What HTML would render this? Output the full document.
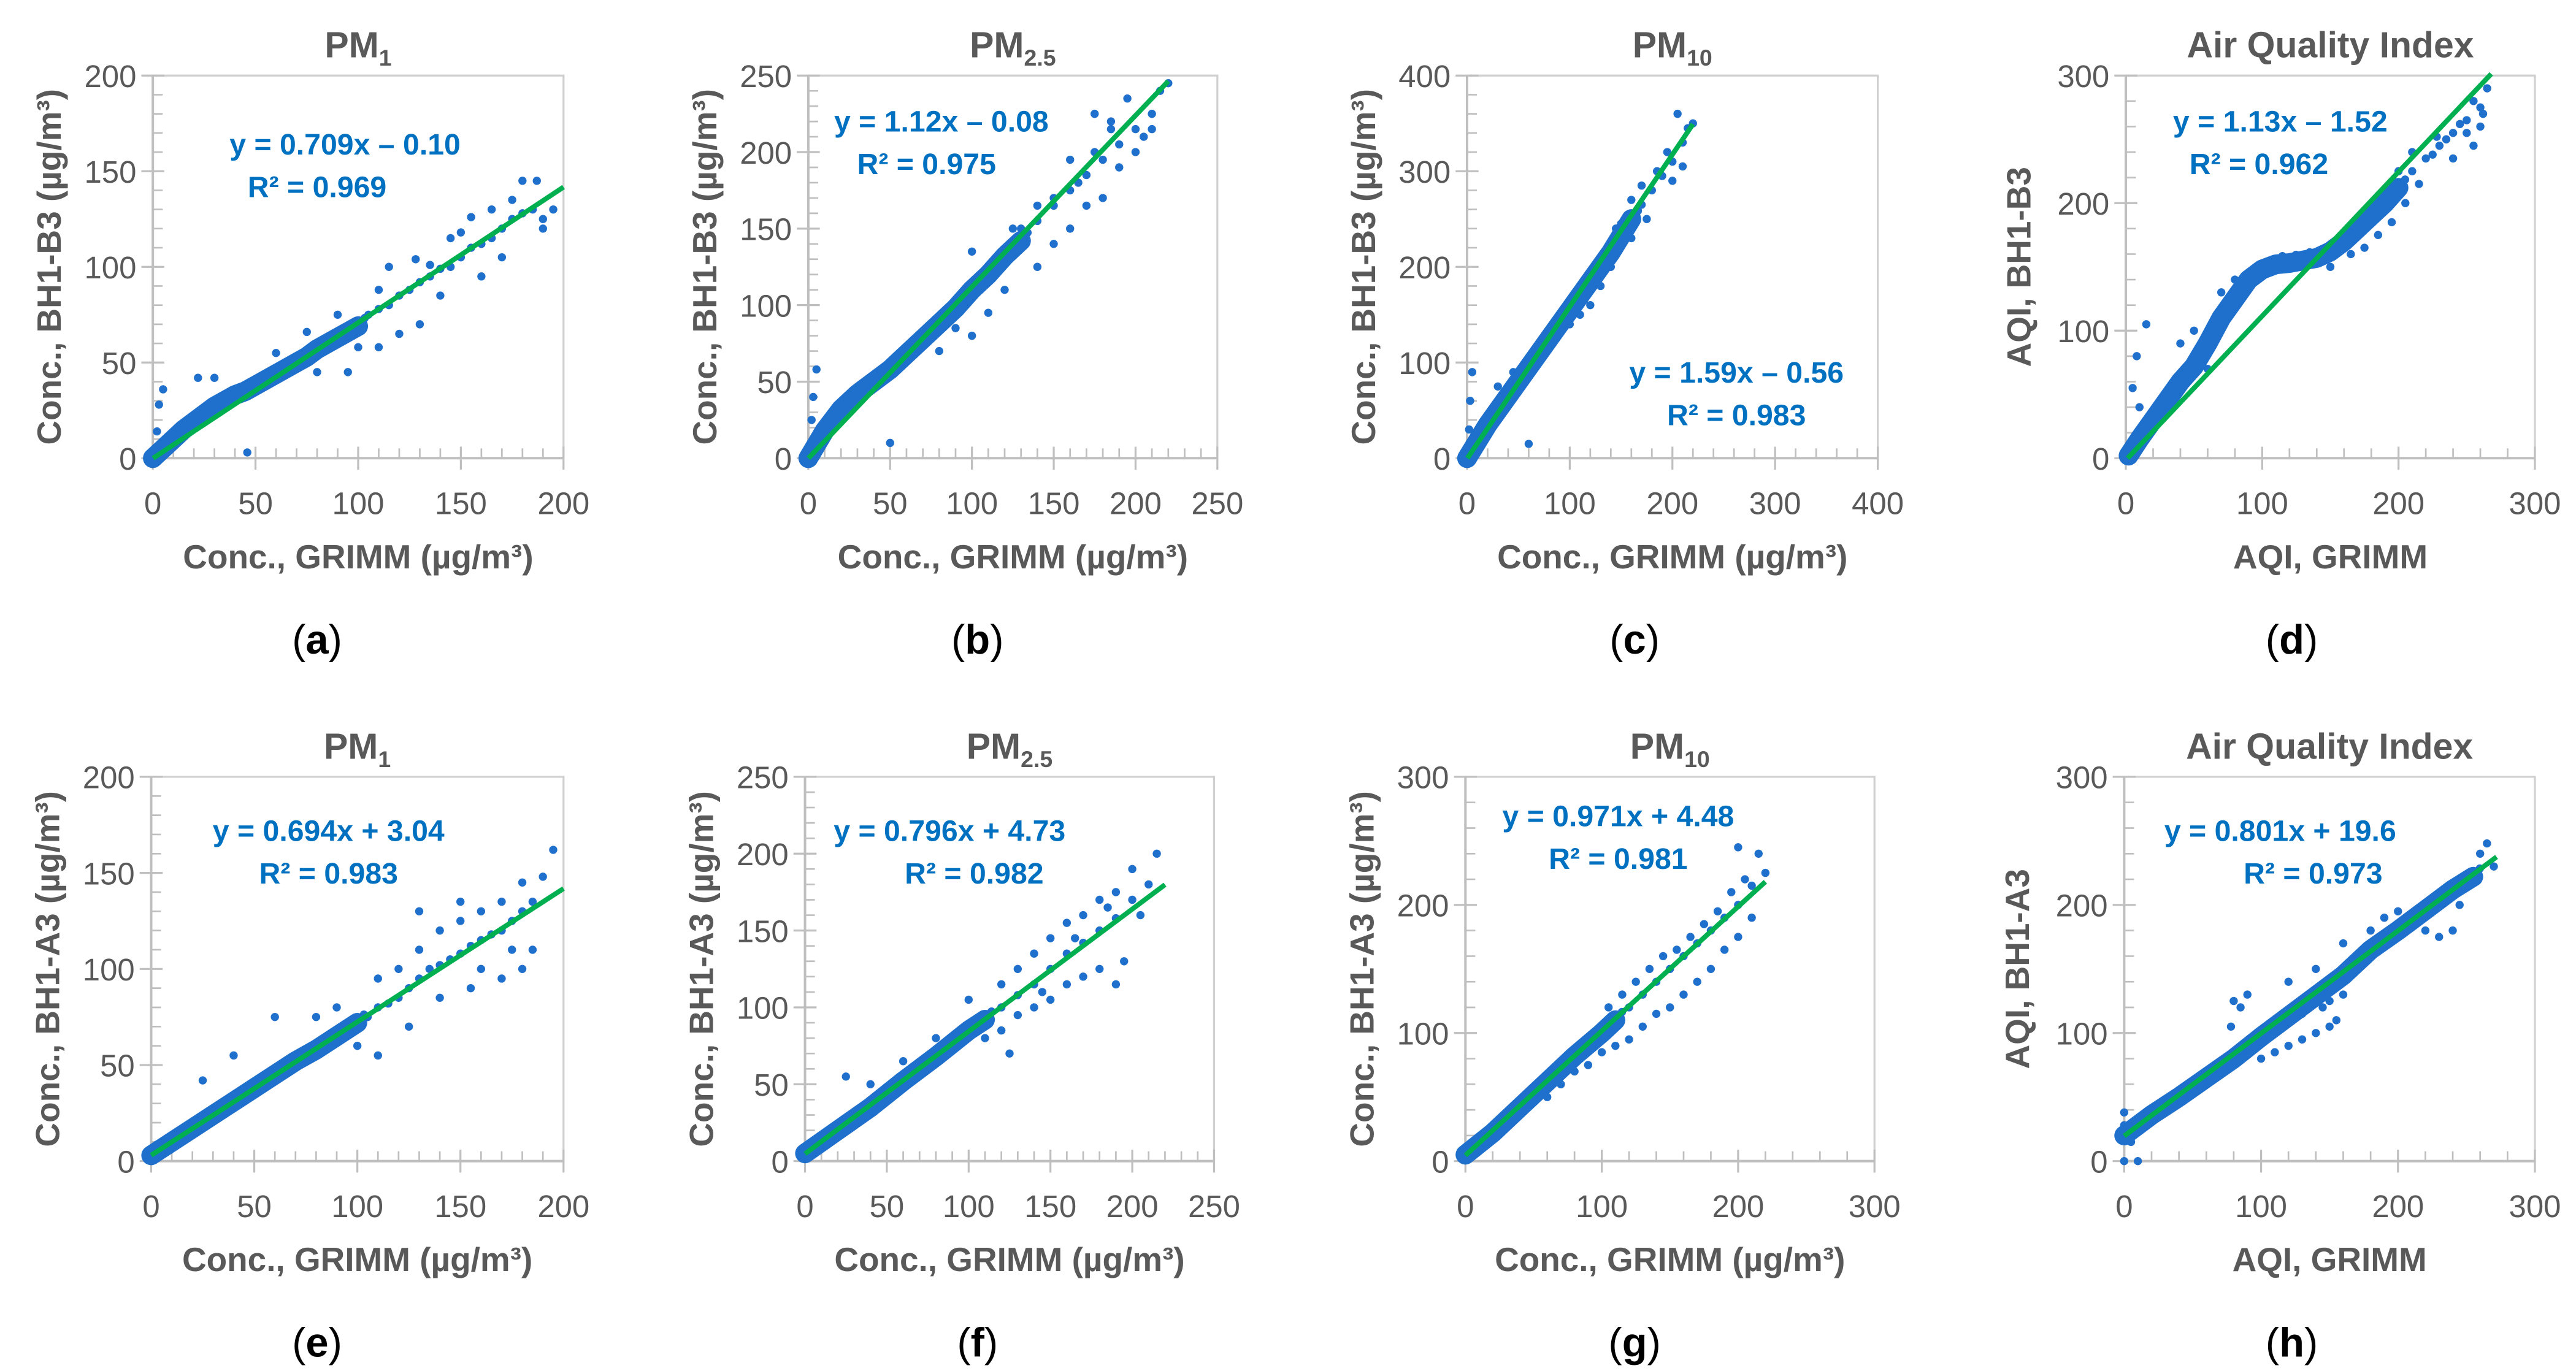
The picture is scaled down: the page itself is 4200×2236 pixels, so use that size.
<!DOCTYPE html>
<html><head><meta charset="utf-8"><style>
html,body{margin:0;padding:0;background:#fff}
svg{display:block}
text{font-family:"Liberation Sans",sans-serif}
</style></head><body>
<svg id="fig" width="4200" height="2236" viewBox="0 0 1568 834.8" xmlns="http://www.w3.org/2000/svg"></svg>
<script>
// ---- data (x = GRIMM, y = sensor) ----
const aCore=[[0,0],[5,5],[10,10],[15,15],[20,19],[25,23],[30,27],[35,30],[40,33],[45,35],[50,38],[55,41],[60,44],[65,47],[70,50],[75,53],[80,57],[85,60],[90,63],[95,66],[100,69]];
const aPts=[[105,75],[110,78],[115,80],[120,85],[125,88],[130,92],[135,95],[140,99],[145,100],[150,105],[155,110],[160,112],[165,115],[170,120],[175,125],[180,128],[185,130],[190,125],[195,130],[180,145],[187,145],[160,95],[140,85],[120,65],[110,58],[100,58],[95,45],[80,45],[128,104],[150,118],[170,105],[3,28],[5,36],[2,14],[46,3],[22,42],[30,42],[60,55],[90,75],[75,66],[115,100],[130,70],[145,115],[165,130],[175,135],[190,120],[155,126],[135,101],[110,88]];
const bCore=[[0,0],[10,18],[20,32],[30,42],[40,50],[50,58],[60,68],[70,78],[80,88],[90,98],[100,110],[110,120],[120,132],[130,142]];
const bPts=[[140,155],[150,165],[160,175],[170,185],[180,195],[190,205],[200,215],[210,225],[215,240],[195,235],[185,220],[175,200],[165,180],[150,140],[140,125],[130,150],[120,110],[110,95],[100,80],[90,85],[80,70],[160,150],[170,165],[200,200],[205,210],[190,190],[180,170],[150,170],[140,165],[125,150],[115,130],[3,40],[5,58],[2,25],[50,10],[100,135],[160,195],[175,225],[185,215],[210,215],[220,245]];
const cCore=[[0,0],[20,35],[40,65],[60,95],[80,125],[100,155],[120,185],[140,215],[160,250]];
const cPts=[[170,265],[180,280],[190,295],[200,310],[210,330],[220,350],[205,360],[215,345],[185,300],[175,250],[160,230],[150,245],[140,200],[130,180],[120,160],[110,150],[100,140],[90,150],[80,130],[160,270],[195,320],[200,290],[5,90],[3,60],[60,15],[2,30],[45,90],[30,75],[170,285],[210,305],[145,240]];
const dCore=[[2,2],[10,15],[20,30],[30,45],[40,60],[50,72],[60,90],[70,110],[80,125],[90,140],[100,148],[110,152],[120,153],[130,155],[140,157],[150,162],[160,170],[170,180],[180,190],[190,200],[200,212]];
const dPts=[[210,225],[220,235],[230,245],[240,255],[250,265],[260,275],[265,290],[255,280],[245,262],[235,250],[225,238],[215,215],[205,200],[195,185],[185,175],[175,165],[200,225],[210,240],[255,245],[260,260],[8,80],[5,55],[10,40],[15,105],[60,70],[50,100],[40,90],[70,130],[80,140],[150,150],[165,160],[240,235],[250,255],[228,252],[262,270]];
const eCore=[[0,3],[10,10],[20,17],[30,24],[40,31],[50,38],[60,45],[70,52],[80,58],[90,65],[100,72]];
const ePts=[[105,75],[110,80],[115,82],[120,85],[125,90],[130,95],[135,100],[140,102],[145,105],[150,108],[155,112],[160,115],[165,118],[170,120],[175,125],[180,130],[185,135],[190,148],[195,162],[180,145],[170,135],[160,130],[150,125],[140,120],[130,110],[120,100],[110,95],[100,60],[110,55],[125,70],[140,85],[155,90],[170,95],[180,100],[150,135],[130,130],[60,75],[25,42],[40,55],[80,75],[90,80],[185,110],[175,110],[160,100]];
const fCore=[[0,5],[20,20],[40,35],[60,52],[80,68],[100,85],[110,92]];
const fPts=[[120,100],[130,108],[140,115],[150,125],[160,135],[170,142],[180,150],[190,158],[200,170],[210,180],[215,200],[200,190],[190,175],[180,170],[170,160],[160,155],[150,145],[140,135],[130,125],[120,115],[110,80],[120,85],[130,95],[140,100],[150,105],[160,115],[170,120],[180,125],[190,115],[195,130],[100,105],[80,80],[60,65],[25,55],[40,50],[205,160],[185,165],[165,145],[145,110],[125,70]];
const gCore=[[0,5],[20,22],[40,42],[60,62],[80,82],[100,100],[110,110]];
const gPts=[[120,120],[130,130],[140,140],[150,150],[160,160],[170,170],[180,180],[190,190],[200,200],[210,215],[215,240],[220,225],[205,220],[195,210],[185,195],[175,185],[165,175],[155,165],[145,160],[135,150],[125,140],[115,130],[105,120],[110,90],[120,95],[130,105],[140,115],[150,120],[160,130],[170,140],[180,150],[190,165],[200,175],[210,190],[60,50],[70,60],[80,70],[90,75],[100,85],[200,245],[10,10]];
const hCore=[[0,20],[20,36],[40,50],[60,65],[80,80],[100,97],[120,113],[140,129],[160,145],[180,165],[200,180],[220,196],[240,212],[255,222]];
const hPts=[[0,28],[0,38],[5,15],[0,0],[10,0],[20,40],[30,40],[40,48],[100,80],[110,85],[120,90],[130,95],[140,100],[150,105],[155,110],[145,120],[130,115],[150,125],[160,130],[120,140],[140,150],[80,125],[85,120],[90,130],[78,105],[200,195],[210,185],[220,180],[230,175],[240,180],[245,200],[250,220],[260,240],[265,248],[270,230],[180,180],[190,190],[160,170]];
const slopes=[0.709,1.12,1.59,1.13,0.694,0.796,0.971,0.801];
const intercepts=[-0.10,-0.08,-0.56,-1.52,3.04,4.73,4.48,19.6];
const fitEnds=[200,220,220,268,200,220,220,272];
const axisMax=[200,250,400,300,200,250,300,300];
const majorSteps=[50,50,100,100,50,50,100,100];
const minorSteps=[10,10,20,20,10,10,20,20];
const cores=[aCore,bCore,cCore,dCore,eCore,fCore,gCore,hCore];
const scatters=[aPts,bPts,cPts,dPts,ePts,fPts,gPts,hPts];
const eq1=["y = 0.709x – 0.10","y = 1.12x – 0.08","y = 1.59x – 0.56","y = 1.13x – 1.52","y = 0.694x + 3.04","y = 0.796x + 4.73","y = 0.971x + 4.48","y = 0.801x + 19.6"];
const eq2=["R² = 0.969","R² = 0.975","R² = 0.983","R² = 0.962","R² = 0.983","R² = 0.982","R² = 0.981","R² = 0.973"];
const titles=[["PM","1"],["PM","2.5"],["PM","10"],["Air Quality Index",""],["PM","1"],["PM","2.5"],["PM","10"],["Air Quality Index",""]];
const yTitles=["Conc., BH1-B3 (µg/m³)","Conc., BH1-B3 (µg/m³)","Conc., BH1-B3 (µg/m³)","AQI, BH1-B3","Conc., BH1-A3 (µg/m³)","Conc., BH1-A3 (µg/m³)","Conc., BH1-A3 (µg/m³)","AQI, BH1-A3"];
const xTitles=["Conc., GRIMM (µg/m³)","Conc., GRIMM (µg/m³)","Conc., GRIMM (µg/m³)","AQI, GRIMM","Conc., GRIMM (µg/m³)","Conc., GRIMM (µg/m³)","Conc., GRIMM (µg/m³)","AQI, GRIMM"];
const captions=["a","b","c","d","e","f","g","h"];
// layout (not data)
const boxes=[[93,343,46,279],[492,741,46,279],[893,1143,46,279],[1294,1543,46,279],[92,343,473,707],[490,739,473,707],[892,1141,473,707],[1293,1543,473,707]];
const eqPos=[[210,94,193,120],[573,80,564,106],[1057,233,1057,259],[1388,80,1375,106],[200,512,200,538],[578,512,593,538],[985,503,985,529],[1388,512,1408,538]];
const capX=[193,595,995,1395,193,595,995,1395];

const NS="http://www.w3.org/2000/svg";
const svg=document.getElementById('fig');
function mk(tag,attrs,parent){const e=document.createElementNS(NS,tag);for(const k in attrs)e.setAttribute(k,attrs[k]);(parent||svg).appendChild(e);return e;}

for(let i=0;i<8;i++){
  const [L,R,T,B]=boxes[i];const M=axisMax[i];
  const sx=v=>L+(v/M)*(R-L), sy=v=>B-(v/M)*(B-T);
  const g=mk('g',{});
  
  
  const fr=mk('path',{d:`M${L},${T}H${R}V${B}`,fill:'none',stroke:'#d0d0d0','stroke-width':1.2},g);
  
  
  for(let v=minorSteps[i];v<M;v+=minorSteps[i]){
    if(v%majorSteps[i]===0)continue;
    mk('line',{x1:L,x2:L+6,y1:sy(v),y2:sy(v),stroke:'#bfbfbf','stroke-width':1},g);
    mk('line',{x1:sx(v),x2:sx(v),y1:B,y2:B-6,stroke:'#bfbfbf','stroke-width':1},g);
  }
  for(let v=0;v<=M;v+=majorSteps[i]){
    mk('line',{x1:L-7,x2:L+7,y1:sy(v),y2:sy(v),stroke:'#bfbfbf','stroke-width':1.2},g);
    mk('line',{x1:sx(v),x2:sx(v),y1:B-7,y2:B+7,stroke:'#bfbfbf','stroke-width':1.2},g);
    const yl=mk('text',{x:L-10,y:sy(v)+7,'text-anchor':'end','font-size':19,fill:'#595959'},g);yl.textContent=v;
    
    
    const xl=mk('text',{x:sx(v),y:B+34,'text-anchor':'middle','font-size':19,fill:'#595959'},g);xl.textContent=v;
    
    
  }
  mk('line',{x1:L,x2:L,y1:T,y2:B,stroke:'#bfbfbf','stroke-width':1.5},g);
  mk('line',{x1:L,x2:R,y1:B,y2:B,stroke:'#bfbfbf','stroke-width':1.5},g);
  const cp=cores[i].map(p=>sx(p[0])+','+sy(p[1])).join(' ');
  const band=mk('polyline',{points:cp,fill:'none',stroke:'#1f6fcc','stroke-width':12,'stroke-linecap':'round','stroke-linejoin':'round'},g);
  
  
  for(const p of scatters[i]){
    const c=mk('circle',{cx:sx(p[0]),cy:sy(p[1]),r:2.5,fill:'#1f6fcc'},g);
    
    
  }
  for(const p of cores[i]){
    const c=mk('circle',{cx:sx(p[0])+4,cy:sy(p[1])-5,r:2.5,fill:'#1f6fcc'},g);
    
    
  }
  const x0=Math.max(0,(0-intercepts[i])/slopes[i]);
  const fl=mk('line',{x1:sx(x0),y1:sy(slopes[i]*x0+intercepts[i]),x2:sx(fitEnds[i]),y2:sy(slopes[i]*fitEnds[i]+intercepts[i]),stroke:'#00b050','stroke-width':3},g);
  
  
  const [ex,ey,rx,ry]=eqPos[i];
  const t1=mk('text',{x:ex,y:ey,'text-anchor':'middle','font-size':18,'font-weight':'bold',fill:'#0070c0'},g);t1.textContent=eq1[i];
  
  
  const t2=mk('text',{x:rx,y:ry,'text-anchor':'middle','font-size':18,'font-weight':'bold',fill:'#0070c0'},g);t2.textContent=eq2[i];
  
  
  const tt=mk('text',{x:(L+R)/2,y:T-11,'text-anchor':'middle','font-size':22,'font-weight':'bold',fill:'#595959'},g);
  
  
  tt.appendChild(document.createTextNode(titles[i][0]));
  if(titles[i][1]){const s=mk('tspan',{'font-size':14,dy:5},tt);s.textContent=titles[i][1];}
  const xt=mk('text',{x:(L+R)/2,y:B+67,'text-anchor':'middle','font-size':20.5,'font-weight':'bold',fill:'#595959'},g);xt.textContent=xTitles[i];
  
  
  const yx=L-(i%4===3?58:56), yy=(T+B)/2;
  const yt=mk('text',{x:yx,y:yy,'text-anchor':'middle','font-size':20.5,'font-weight':'bold',fill:'#595959',transform:`rotate(-90 ${yx} ${yy})`},g);yt.textContent=yTitles[i];
  
  
  const cap=mk('text',{x:capX[i],y:B+119,'text-anchor':'middle','font-size':25,fill:'#000','font-family':'Liberation Serif, serif'},g);
  
  
  cap.appendChild(document.createTextNode('('));
  const b=mk('tspan',{'font-weight':'bold'},cap);b.textContent=captions[i];
  cap.appendChild(document.createTextNode(')'));
}
</script>
</body></html>
